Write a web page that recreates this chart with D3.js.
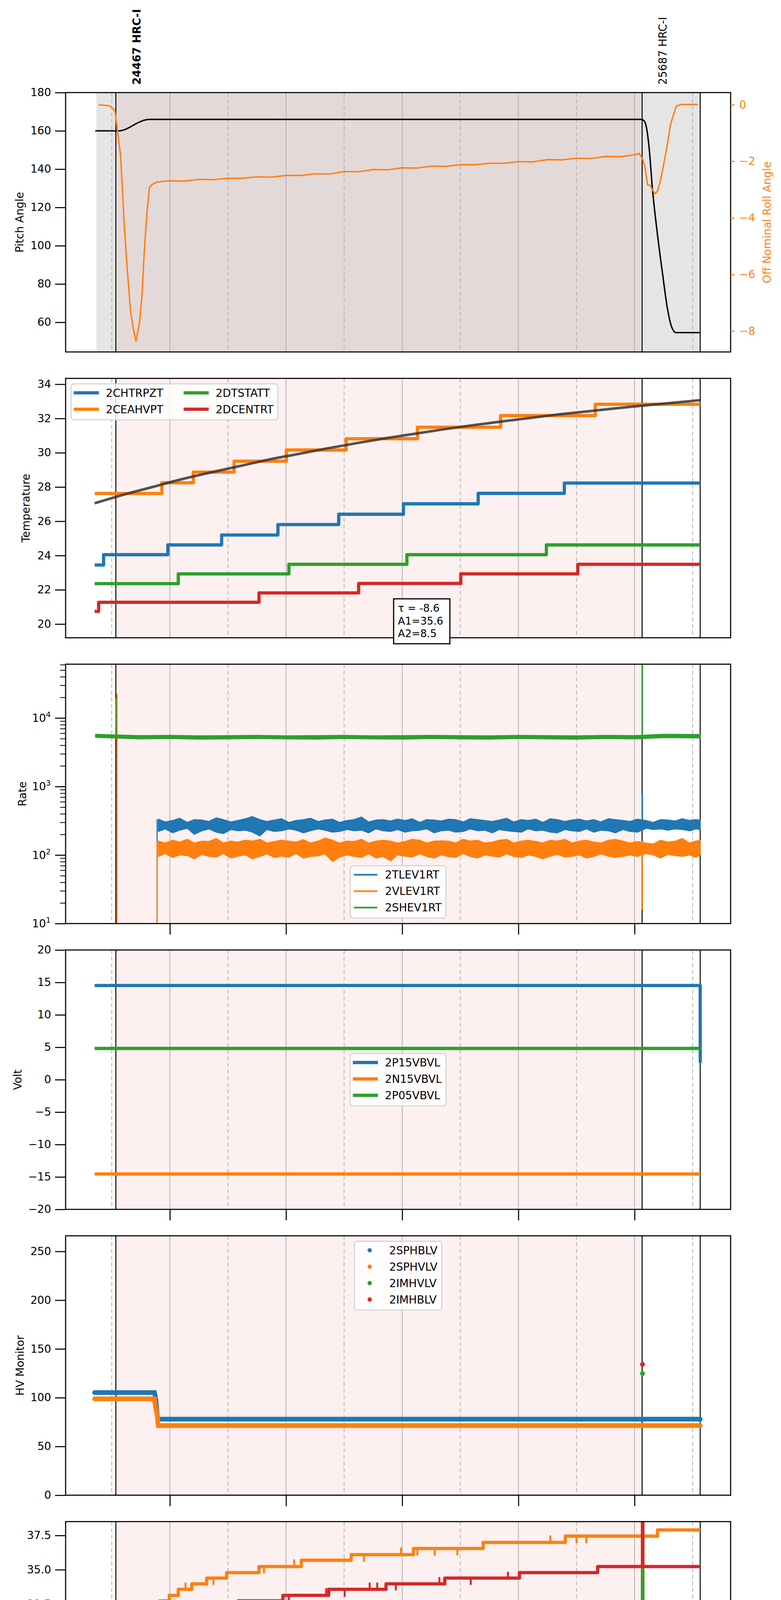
<!DOCTYPE html>
<html>
<head>
<meta charset="utf-8">
<script src="https://cdn.jsdelivr.net/npm/d3@7"></script>
<style>
  html, body { margin: 0; padding: 0; background: #fff; width: 2000px; height: 5400px; overflow: hidden; }
  svg { display: block; }
  text { font-family: "DejaVu Sans", sans-serif; }
</style>
</head>
<body>
<div id="chart"></div>
<script>
// ---------------- data (hours since 2021-08-20 00:00) ----------------
var majorHours = [16, 18, 20, 22, 24];
var minorHours = [15, 17, 19, 21, 23, 25];
var slewStart = 14.736, obsStart = 15.07, obsEnd = 24.13, dataEnd = 25.13;
var obsLabels = [
  {t: 15.07, text: '24467 HRC-I', bold: true},
  {t: 24.13, text: '25687 HRC-I', bold: false}
];

// panel 1: pitch / roll
var pitchAngle = [[14.716,160],[15.134,160],[15.219,160.6],[15.305,161.8],[15.391,163.3],[15.477,164.6],
  [15.562,165.6],[15.648,166],[24.12,166],[24.163,165.3],[24.206,161.6],[24.249,151.7],[24.309,129.3],
  [24.395,105.7],[24.48,85.8],[24.566,67.2],[24.635,57.9],[24.712,54.6],[25.12,54.6]];
var rollAngle = [[14.774,0.0],[14.969,-0.04],[15.054,-0.21],[15.153,-1.82],[15.219,-4.43],[15.262,-5.69],
  [15.322,-7.29],[15.374,-7.96],[15.417,-8.35],[15.477,-7.71],[15.519,-6.78],[15.562,-5.1],[15.605,-3.84],
  [15.648,-2.92],[15.691,-2.82],[15.78,-2.73],[16.0,-2.69],[16.25,-2.7],[16.5,-2.64],[16.75,-2.65],[17.0,-2.6],
  [17.25,-2.6],[17.5,-2.55],[17.75,-2.56],[18.0,-2.5],[18.25,-2.5],[18.5,-2.44],[18.75,-2.45],[19.0,-2.36],
  [19.25,-2.37],[19.5,-2.29],[19.75,-2.3],[20.0,-2.23],[20.25,-2.24],[20.5,-2.17],[20.75,-2.18],[21.0,-2.12],
  [21.25,-2.12],[21.5,-2.07],[21.75,-2.07],[22.0,-2.01],[22.25,-2.02],[22.5,-1.94],[22.75,-1.95],[23.0,-1.89],
  [23.25,-1.9],[23.5,-1.83],[23.75,-1.84],[24.0,-1.77],[24.08,-1.72],[24.137,-1.92],[24.18,-2.2],
  [24.223,-2.83],[24.266,-2.85],[24.352,-3.15],[24.395,-3.05],[24.437,-2.75],[24.48,-2.33],[24.566,-1.4],
  [24.619,-0.69],[24.72,-0.04],[24.807,0.01],[25.09,0.01]];

// panel 2: temperature
var temp_2CHTRPZT = [[14.705,23.45],[14.859,24.05],[15.965,24.62],[16.891,25.2],[17.86,25.81],[18.907,26.41],
  [20.021,27.02],[21.308,27.63],[22.791,28.23],[25.13,28.23]];
var temp_2CEAHVPT = [[14.705,27.62],[15.862,28.25],[16.403,28.87],[17.106,29.51],[18.006,30.16],[19.035,30.82],
  [20.262,31.49],[21.694,32.17],[23.323,32.83],[25.13,32.83]];
var temp_2DTSTATT = [[14.705,22.36],[16.145,22.93],[18.049,23.49],[20.081,24.05],[22.482,24.62],[25.13,24.62]];
var temp_2DCENTRT = [[14.705,20.74],[14.774,21.27],[17.535,21.82],[19.25,22.37],[21.008,22.93],[23.023,23.49],[25.13,23.49]];
var tempFit = [[14.705,27.05],[15.2,27.55],[15.7,28.0],[16.2,28.45],[16.7,28.85],[17.2,29.22],[17.7,29.6],
  [18.2,29.92],[18.7,30.25],[19.2,30.55],[19.7,30.84],[20.2,31.1],[20.7,31.36],[21.2,31.6],[21.7,31.82],
  [22.2,32.03],[22.7,32.24],[23.2,32.42],[23.7,32.6],[24.2,32.77],[24.7,32.93],[25.13,33.07]];
var fitText = ['\u03c4 = -8.6', 'A1=35.6', 'A2=8.5'];

// panel 3: rates (noise band envelopes + spikes [t, from, to])
var rateTimes = [15.80,15.92,16.05,16.17,16.30,16.42,16.55,16.67,16.80,16.92,17.05,17.17,17.30,17.42,17.55,
  17.67,17.80,17.92,18.05,18.17,18.30,18.42,18.55,18.67,18.80,18.92,19.05,19.17,19.30,19.42,19.55,19.67,
  19.80,19.92,20.05,20.17,20.30,20.42,20.55,20.67,20.80,20.92,21.05,21.17,21.30,21.42,21.55,21.67,21.80,
  21.92,22.05,22.17,22.30,22.42,22.55,22.67,22.80,22.92,23.05,23.17,23.30,23.42,23.55,23.67,23.80,23.92,
  24.05,24.20,24.32,24.45,24.57,24.70,24.82,24.95,25.05,25.13];
var rateHi_2TLEV1RT = [335,305,320,345,300,330,325,310,350,330,305,320,340,365,330,310,325,340,300,320,330,
  345,310,325,335,300,320,330,360,305,325,330,315,335,320,340,300,330,325,315,335,330,305,340,330,320,
  310,325,345,305,330,320,335,300,340,330,310,325,335,315,330,305,340,330,320,310,335,320,300,330,325,
  315,340,320,330,325];
var rateLo_2TLEV1RT = [220,240,210,230,245,200,225,240,215,205,235,225,230,215,190,235,220,225,240,230,210,
  225,240,230,215,220,235,225,230,210,240,225,220,235,215,225,230,240,210,225,230,215,220,240,225,230,
  210,235,225,220,215,240,225,230,215,210,235,225,220,240,215,230,225,210,235,220,215,245,235,240,230,
  240,235,225,240,235];
var rateHi_2VLEV1RT = [160,150,165,155,170,150,160,158,175,150,160,155,165,160,170,150,158,165,160,155,168,
  150,160,178,165,150,160,158,170,150,160,165,160,150,158,170,165,150,160,162,160,150,170,160,165,150,
  155,165,170,150,160,165,158,150,165,160,170,150,160,165,155,150,165,170,160,150,158,150,145,165,155,
  160,175,150,160,165];
var rateLo_2VLEV1RT = [95,105,92,100,98,88,102,95,93,105,90,96,100,88,95,104,92,96,93,105,90,95,97,104,80,
  93,100,95,92,104,90,95,82,100,96,93,104,95,90,100,94,92,105,95,90,100,96,93,104,95,92,100,95,88,96,
  102,93,95,100,90,95,104,96,92,95,100,95,105,100,90,102,98,95,100,92,100];
var greenTimes = [14.72,15.0,15.5,16.0,16.5,17.0,17.5,18.0,18.5,19.0,19.5,20.0,20.5,21.0,21.5,22.0,22.5,23.0,
  23.5,24.0,24.5,25.13];
var rateHi_2SHEV1RT = [5800,5700,5550,5600,5500,5550,5600,5500,5550,5600,5500,5550,5600,5550,5500,5600,5550,
  5500,5600,5550,5800,5750];
var rateLo_2SHEV1RT = [5200,5100,4950,5000,4900,4950,5000,4950,4900,5000,4950,4900,5000,4950,4900,5000,4950,
  4900,5000,4950,5150,5100];
var rateSpikes_2TLEV1RT = [[15.78,10,330],[24.135,230,780]];
var rateSpikes_2VLEV1RT = [[15.09,10,22500],[15.78,10,160],[24.135,16,160]];
var rateSpikes_2SHEV1RT = [[15.075,5300,19300],[24.135,5300,61000]];

// panel 4: voltages
var volt_2P15VBVL = [[14.705,14.52],[25.13,14.52],[25.131,2.6]];
var volt_2N15VBVL = [[14.705,-14.54],[25.13,-14.54]];
var volt_2P05VBVL = [[14.705,4.82],[25.13,4.82]];

// panel 5: HV monitor
var hv_2SPHBLV = [[14.705,105.2],[15.734,105.2],[15.745,103],[15.76,97],[15.77,91],[15.777,86],[15.785,81],[15.795,78],[25.13,78]];
var hv_2SPHVLV = [[14.705,98.8],[15.734,98.8],[15.75,91.6],[15.767,86.5],[15.785,81.3],[15.79,76.1],[15.802,71.4],[25.13,71.4]];
var hv_2IMHVLV = [[24.137,124.8]];
var hv_2IMHBLV = [[24.137,134.2]];

// panel 6: detector temps (steps) and single-sample excursions
var det_2SPINATM = [[14.705,20.32],[16.66,21.0],[18.72,21.71],[21.153,22.44],[24.395,23.16],[25.13,23.16]];
var det_2SPHVATM = [[14.705,32.33],[15.82,32.73],[15.991,33.13],[16.145,33.57],[16.377,33.97],[16.634,34.39],
  [16.977,34.79],[17.535,35.23],[18.263,35.69],[19.121,36.1],[20.193,36.55],[21.393,36.99],[22.808,37.45],
  [24.137,0],[24.142,37.45],[24.395,37.9],[25.13,37.9]];
var det_2IMINATM = [[14.705,21.71],[16.103,22.44],[19.018,23.16],[22.139,23.89],[24.137,60],[24.142,23.89],[25.13,23.89]];
var det_2IMHVATM = [[14.705,31.5],[15.622,31.93],[16.548,32.33],[17.174,32.73],[17.946,33.13],[18.735,33.57],
  [19.721,33.97],[20.733,34.39],[22.019,34.79],[23.365,35.23],[24.137,60],[24.142,35.23],[25.13,35.23]];
var detSpikes_2SPHVATM = [[16.27,34.0],[16.75,33.95],[17.62,34.8],[18.14,35.7],[19.34,35.65],[19.98,36.55],
  [20.26,36.1],[20.56,36.1],[20.95,36.1],[22.55,37.45],[23.0,37.0],[23.17,37.0]];
var detSpikes_2IMHVATM = [[15.93,31.45],[16.27,32.35],[16.72,31.85],[17.32,32.3],[18.05,32.75],[18.69,33.6],
  [19.01,33.1],[19.44,34.0],[19.57,34.0],[19.89,33.55],[20.64,34.4],[21.18,33.95],[21.82,34.8]];

// panel 7: FEA temps
var fea_2FHTRMZT = [[14.705,25.8],[16.162,26.4],[18.075,27.0],[20.579,27.6],[23.837,28.25],[24.635,27.6],[25.13,27.6]];
var fea_2FRADPYT = [[14.705,20.75],[15.134,21.3],[15.537,21.8],[17.603,22.35],[19.867,22.9],[22.748,23.45],
  [24.506,22.9],[24.798,22.35],[25.13,22.35]];
var fea_2FEPRATM = [[14.705,26.95],[16.78,27.75],[20.321,28.6],[24.137,31],[24.142,28.6],[25.13,28.6]];
var fea_2FE00ATM = [[14.705,24.95],[15.802,25.28],[17.192,25.62],[18.718,25.97],[20.621,26.31],[23.023,26.65],
  [24.137,15],[24.142,26.65],[24.781,26.31],[25.13,26.31]];
var feaSpikes_2FE00ATM = [[15.85,24.9],[15.9,25.35],[15.93,23.95],[15.96,24.3],[16.0,24.9],[16.47,25.65],
  [16.49,24.6],[17.08,26.3],[17.3,24.9],[17.53,26.7],[18.07,26.3],[18.09,24.6],[18.18,26.0],[18.28,26.0],
  [18.33,25.25],[18.44,26.0],[18.7,25.25],[19.28,25.6],[19.36,25.6],[19.83,25.6],[20.0,26.3],[20.06,25.25],
  [20.11,26.3],[20.35,25.6],[20.42,26.65],[20.95,25.6],[21.2,26.65],[21.44,26.65],[21.46,25.6],[21.68,26.65],
  [21.82,25.95],[22.14,25.25],[22.27,26.65],[22.38,25.95],[22.45,26.65],[22.55,25.95],[23.0,25.6],
  [23.19,25.95],[23.39,27.4],[23.61,25.6],[23.71,27.0],[23.81,25.6],[23.91,27.0],[23.97,27.75]];

// ---------------- layout ----------------
var C = {blue: '#1f77b4', orange: '#ff7f0e', green: '#2ca02c', red: '#d62728'};
var fs = 27.8;
var left = 168, right = 1871, panelH = 664;
var panelTops = [237, 968.7, 1700.3, 2432, 3163.7, 3895.3, 4627];

var svg = d3.select('#chart').append('svg').attr('width', 2000).attr('height', 5400);
var defs = svg.append('defs');
var x = d3.scaleLinear().domain([14.205, 25.654]).range([left, right]);

function makePanel(i, y) {
  var top = panelTops[i];
  y.range([top + panelH, top]);
  defs.append('clipPath').attr('id', 'clip' + i).append('rect')
    .attr('x', left).attr('y', top).attr('width', right - left).attr('height', panelH);
  var g = svg.append('g');
  var p = {i: i, top: top, y: y, g: g};
  p.bg = g.append('g');
  p.plot = g.append('g').attr('clip-path', 'url(#clip' + i + ')');
  p.fg = g.append('g');
  // shading
  if (i === 0) {
    p.bg.append('rect').attr('x', x(slewStart)).attr('y', top).attr('width', x(dataEnd) - x(slewStart))
      .attr('height', panelH).attr('fill', '#e5e5e5');
    p.bg.append('rect').attr('x', x(obsStart)).attr('y', top).attr('width', x(obsEnd) - x(obsStart))
      .attr('height', panelH).attr('fill', '#e4d9d9');
  } else {
    p.bg.append('rect').attr('x', x(obsStart)).attr('y', top).attr('width', x(obsEnd) - x(obsStart))
      .attr('height', panelH).attr('fill', '#fdf0f0');
  }
  // hour grid
  majorHours.concat(minorHours).forEach(function(h) {
    p.bg.append('line').attr('x1', x(h)).attr('x2', x(h)).attr('y1', top).attr('y2', top + panelH)
      .attr('stroke', '#b0b0b0').attr('stroke-width', 2)
      .attr('stroke-dasharray', h % 2 ? '10,7' : null);
  });
  [obsStart, obsEnd, dataEnd].forEach(function(t) {
    p.bg.append('line').attr('x1', x(t)).attr('x2', x(t)).attr('y1', top).attr('y2', top + panelH)
      .attr('stroke', '#000').attr('stroke-width', 2.5);
  });
  return p;
}

function finishPanel(p, showTicks) {
  p.fg.append('rect').attr('x', left).attr('y', p.top).attr('width', right - left).attr('height', panelH)
    .attr('fill', 'none').attr('stroke', '#000').attr('stroke-width', 2.8);
  if (showTicks) {
    var ax = p.fg.append('g').attr('transform', 'translate(0,' + (p.top + panelH) + ')')
      .call(d3.axisBottom(x).tickValues(majorHours).tickSize(28).tickPadding(10)
        .tickFormat(p.i === 6 ? function(h) { return d3.format('02d')(h % 24) + 'h'; } : ''));
    styleAxis(ax);
    if (p.i !== 6) ax.selectAll('.tick text').remove();
  }
}

function styleAxis(ax, color) {
  ax.attr('font-family', '"DejaVu Sans", sans-serif').attr('font-size', fs);
  ax.select('.domain').remove();
  ax.selectAll('.tick line').attr('stroke', color || '#000').attr('stroke-width', 2.7);
  ax.selectAll('.tick text').attr('fill', color || '#000');
}

function yAxis(p, ticks, fmt) {
  var ax = p.fg.append('g').attr('transform', 'translate(' + left + ',0)')
    .call(d3.axisLeft(p.y).tickValues(ticks).tickSize(27).tickPadding(10).tickFormat(fmt));
  styleAxis(ax);
}

function yLabel(p, text, cx, color) {
  var cy = p.top + panelH / 2;
  p.fg.append('text').attr('transform', 'translate(' + cx + ',' + cy + ') rotate(-90)')
    .attr('text-anchor', 'middle').attr('dominant-baseline', 'central')
    .attr('font-size', fs).attr('fill', color || '#000').text(text);
}

function stepLine(p, data, color, lw) {
  p.plot.append('path').datum(data)
    .attr('d', d3.line().x(function(d) { return x(d[0]); }).y(function(d) { return p.y(d[1]); }).curve(d3.curveStepAfter))
    .attr('fill', 'none').attr('stroke', color).attr('stroke-width', lw || 8.3)
    .attr('stroke-linejoin', 'round');
}

function spikes(p, steps, list, color, lw) {
  var bis = d3.bisector(function(d) { return d[0]; }).right;
  list.forEach(function(s) {
    var base = steps[Math.max(0, bis(steps, s[0]) - 1)][1];
    p.plot.append('line').attr('x1', x(s[0])).attr('x2', x(s[0]))
      .attr('y1', p.y(base)).attr('y2', p.y(s[1]))
      .attr('stroke', color).attr('stroke-width', lw || 5).attr('stroke-linecap', 'round');
  });
}

function legend(p, items, loc, opt) {
  opt = opt || {};
  var ncol = opt.ncol || 1, kind = opt.kind || 'line', lw = opt.lw || 8.3;
  var nrow = Math.ceil(items.length / ncol);
  var handle = 56, htp = 22, colsp = 56, pad = 11, rowH = 42;
  var lg = p.fg.append('g');
  var box = lg.append('rect');
  var texts = items.map(function(it) { return lg.append('text').attr('font-size', fs).text(it.label); });
  var widths = texts.map(function(t) { return t.node().getComputedTextLength(); });
  var colW = [];
  for (var c = 0; c < ncol; c++) colW.push(d3.max(widths.slice(c * nrow, (c + 1) * nrow)) || 0);
  var w = pad * 2 + d3.sum(colW) + ncol * (handle + htp) + colsp * (ncol - 1);
  var h = 50 + rowH * (nrow - 1);
  var bx, by;
  if (loc === 'upper left') { bx = left + 14; by = p.top + 14; }
  else if (loc === 'upper center') { bx = (left + right) / 2 - w / 2; by = p.top + 14; }
  else if (loc === 'lower center') { bx = (left + right) / 2 - w / 2; by = p.top + panelH - 14 - h; }
  else { bx = (left + right) / 2 - w / 2; by = p.top + panelH / 2 - h / 2; }
  box.attr('x', bx).attr('y', by).attr('width', w).attr('height', h).attr('rx', 7)
    .attr('fill', '#fff').attr('fill-opacity', 0.8).attr('stroke', '#d0d0d0').attr('stroke-width', 2.5);
  items.forEach(function(it, i) {
    var col = Math.floor(i / nrow), row = i % nrow;
    var cx = bx + pad;
    for (var k = 0; k < col; k++) cx += handle + htp + colW[k] + colsp;
    var cy = by + 23 + row * rowH;
    if (kind === 'dot') {
      lg.append('circle').attr('cx', cx + handle / 2).attr('cy', cy).attr('r', 5.5).attr('fill', it.color);
    } else {
      lg.append('line').attr('x1', cx).attr('x2', cx + handle).attr('y1', cy).attr('y2', cy)
        .attr('stroke', it.color).attr('stroke-width', lw).attr('stroke-linecap', 'square');
    }
    texts[i].attr('x', cx + handle + htp).attr('y', cy + 10);
  });
}

// ---------------- panel 1: pitch & roll ----------------
var p1 = makePanel(0, d3.scaleLinear().domain([44.5, 180]));
var yRoll = d3.scaleLinear().domain([-8.74, 0.43]).range([p1.top + panelH, p1.top]);
p1.plot.append('path').datum(pitchAngle)
  .attr('d', d3.line().x(function(d) { return x(d[0]); }).y(function(d) { return p1.y(d[1]); }).curve(d3.curveMonotoneX))
  .attr('fill', 'none').attr('stroke', '#000').attr('stroke-width', 3.6);
p1.plot.append('path').datum(rollAngle)
  .attr('d', d3.line().x(function(d) { return x(d[0]); }).y(function(d) { return yRoll(d[1]); }))
  .attr('fill', 'none').attr('stroke', C.orange).attr('stroke-width', 3.6).attr('stroke-linejoin', 'round');
finishPanel(p1, false);
yAxis(p1, [60, 80, 100, 120, 140, 160, 180], d3.format('d'));
var rax = p1.fg.append('g').attr('transform', 'translate(' + right + ',0)')
  .call(d3.axisRight(yRoll).tickValues([0, -2, -4, -6, -8]).tickSize(10).tickPadding(12).tickFormat(d3.format('d')));
styleAxis(rax, C.orange);
yLabel(p1, 'Pitch Angle', 50);
yLabel(p1, 'Off Nominal Roll Angle', 1964, C.orange);
obsLabels.forEach(function(o) {
  svg.append('text').attr('transform', 'translate(' + (x(o.t) + 63) + ',217) rotate(-90)')
    .attr('font-size', fs).attr('font-weight', o.bold ? 'bold' : 'normal').text(o.text);
});

// ---------------- panel 2: temperature ----------------
var p2 = makePanel(1, d3.scaleLinear().domain([19.2, 34.34]));
stepLine(p2, temp_2CHTRPZT, C.blue);
stepLine(p2, temp_2CEAHVPT, C.orange);
stepLine(p2, temp_2DTSTATT, C.green);
stepLine(p2, temp_2DCENTRT, C.red);
p2.plot.append('path').datum(tempFit)
  .attr('d', d3.line().x(function(d) { return x(d[0]); }).y(function(d) { return p2.y(d[1]); }).curve(d3.curveMonotoneX))
  .attr('fill', 'none').attr('stroke', '#3a3333').attr('stroke-opacity', 0.85).attr('stroke-width', 6.5);
finishPanel(p2, false);
yAxis(p2, [20, 22, 24, 26, 28, 30, 32, 34], d3.format('d'));
yLabel(p2, 'Temperature', 66);
legend(p2, [{label: '2CHTRPZT', color: C.blue}, {label: '2CEAHVPT', color: C.orange},
  {label: '2DTSTATT', color: C.green}, {label: '2DCENTRT', color: C.red}], 'upper left', {ncol: 2});
var ann = svg.append('g');
ann.append('rect').attr('x', 1008).attr('y', 1533).attr('width', 144).attr('height', 115)
  .attr('fill', '#fff').attr('stroke', '#000').attr('stroke-width', 3);
fitText.forEach(function(t, i) {
  ann.append('text').attr('x', 1019).attr('y', 1566 + i * 32.5).attr('font-size', 26.5).text(t);
});

// ---------------- panel 3: rates ----------------
var p3 = makePanel(2, d3.scaleLog().domain([10, 61000]));
function band(p, times, lo, hi, color) {
  p.plot.append('path').datum(times.map(function(t, i) { return [t, lo[i], hi[i]]; }))
    .attr('d', d3.area().x(function(d) { return x(d[0]); }).y0(function(d) { return p.y(d[1]); }).y1(function(d) { return p.y(d[2]); }))
    .attr('fill', color).attr('stroke', color).attr('stroke-width', 2).attr('stroke-linejoin', 'round');
}
function rateSpikes(p, list, color) {
  list.forEach(function(s) {
    p.plot.append('line').attr('x1', x(s[0])).attr('x2', x(s[0])).attr('y1', p.y(s[1])).attr('y2', p.y(s[2]))
      .attr('stroke', color).attr('stroke-width', 3);
  });
}
band(p3, rateTimes, rateLo_2TLEV1RT, rateHi_2TLEV1RT, C.blue);
rateSpikes(p3, rateSpikes_2TLEV1RT, C.blue);
band(p3, rateTimes, rateLo_2VLEV1RT, rateHi_2VLEV1RT, C.orange);
rateSpikes(p3, rateSpikes_2VLEV1RT, C.orange);
band(p3, greenTimes, rateLo_2SHEV1RT, rateHi_2SHEV1RT, C.green);
rateSpikes(p3, rateSpikes_2SHEV1RT, C.green);
finishPanel(p3, true);
var rMajor = [10, 100, 1000, 10000];
var rMinor = [];
rMajor.forEach(function(m) { [2, 3, 4, 5, 6, 7, 8, 9].forEach(function(k) { if (m * k < 61000) rMinor.push(m * k); }); });
var rmi = p3.fg.append('g').attr('transform', 'translate(' + left + ',0)')
  .call(d3.axisLeft(p3.y).tickValues(rMinor).tickSize(14).tickFormat(''));
styleAxis(rmi);
rmi.selectAll('.tick line').attr('stroke-width', 2);
rmi.selectAll('.tick text').remove();
var rma = p3.fg.append('g').attr('transform', 'translate(' + left + ',0)')
  .call(d3.axisLeft(p3.y).tickValues(rMajor).tickSize(27).tickFormat(''));
styleAxis(rma);
rma.selectAll('.tick text').remove();
rMajor.forEach(function(m) {
  var t = p3.fg.append('text').attr('x', left - 38).attr('y', p3.y(m) + 10).attr('text-anchor', 'end').attr('font-size', fs);
  t.append('tspan').text('10');
  t.append('tspan').attr('dy', -12).attr('font-size', 19.5).text(Math.round(Math.log10(m)));
});
yLabel(p3, 'Rate', 57);
legend(p3, [{label: '2TLEV1RT', color: C.blue}, {label: '2VLEV1RT', color: C.orange},
  {label: '2SHEV1RT', color: C.green}], 'lower center', {lw: 4.2});

// ---------------- panel 4: voltages ----------------
var p4 = makePanel(3, d3.scaleLinear().domain([-20, 20]));
[[volt_2P15VBVL, C.blue], [volt_2N15VBVL, C.orange], [volt_2P05VBVL, C.green]].forEach(function(s) {
  p4.plot.append('path').datum(s[0])
    .attr('d', d3.line().x(function(d) { return x(d[0]); }).y(function(d) { return p4.y(d[1]); }))
    .attr('fill', 'none').attr('stroke', s[1]).attr('stroke-width', 8.3).attr('stroke-linejoin', 'round');
});
finishPanel(p4, true);
yAxis(p4, [-20, -15, -10, -5, 0, 5, 10, 15, 20], d3.format('d'));
yLabel(p4, 'Volt', 45);
legend(p4, [{label: '2P15VBVL', color: C.blue}, {label: '2N15VBVL', color: C.orange},
  {label: '2P05VBVL', color: C.green}], 'center');

// ---------------- panel 5: HV monitor ----------------
var p5 = makePanel(4, d3.scaleLinear().domain([0, 266]));
[[hv_2SPHBLV, C.blue], [hv_2SPHVLV, C.orange], [hv_2IMHVLV, C.green], [hv_2IMHBLV, C.red]].forEach(function(s) {
  p5.plot.append('path').datum(s[0])
    .attr('d', d3.line().x(function(d) { return x(d[0]); }).y(function(d) { return p5.y(d[1]); }))
    .attr('fill', 'none').attr('stroke', s[1]).attr('stroke-width', 12).attr('stroke-linecap', 'round');
  p5.plot.selectAll(null).data(s[0]).enter().append('circle')
    .attr('cx', function(d) { return x(d[0]); }).attr('cy', function(d) { return p5.y(d[1]); })
    .attr('r', 6).attr('fill', s[1]);
});
finishPanel(p5, true);
yAxis(p5, [0, 50, 100, 150, 200, 250], d3.format('d'));
yLabel(p5, 'HV Monitor', 51);
legend(p5, [{label: '2SPHBLV', color: C.blue}, {label: '2SPHVLV', color: C.orange},
  {label: '2IMHVLV', color: C.green}, {label: '2IMHBLV', color: C.red}], 'upper center', {kind: 'dot'});

// ---------------- panel 6: detector temps ----------------
var p6 = makePanel(5, d3.scaleLinear().domain([19.59, 38.51]));
stepLine(p6, det_2SPINATM, C.blue);
spikes(p6, det_2SPHVATM, detSpikes_2SPHVATM, C.orange);
stepLine(p6, det_2SPHVATM, C.orange);
stepLine(p6, det_2IMINATM, C.green);
spikes(p6, det_2IMHVATM, detSpikes_2IMHVATM, C.red);
stepLine(p6, det_2IMHVATM, C.red);
finishPanel(p6, true);
yAxis(p6, [20, 22.5, 25, 27.5, 30, 32.5, 35, 37.5], d3.format('.1f'));
yLabel(p6, 'Detector Temp', 42);
legend(p6, [{label: '2SPINATM', color: C.blue}, {label: '2SPHVATM', color: C.orange},
  {label: '2IMINATM', color: C.green}, {label: '2IMHVATM', color: C.red}], 'center');

// ---------------- panel 7: FEA temps ----------------
var p7 = makePanel(6, d3.scaleLinear().domain([20.37, 30.08]));
stepLine(p7, fea_2FHTRMZT, C.blue);
stepLine(p7, fea_2FRADPYT, C.orange);
stepLine(p7, fea_2FEPRATM, C.green);
spikes(p7, fea_2FE00ATM, feaSpikes_2FE00ATM, C.red, 5);
stepLine(p7, fea_2FE00ATM, C.red);
finishPanel(p7, true);
yAxis(p7, [22, 24, 26, 28, 30], d3.format('d'));
yLabel(p7, 'FEA Temp', 70);
legend(p7, [{label: '2FHTRMZT', color: C.blue}, {label: '2FRADPYT', color: C.orange},
  {label: '2FEPRATM', color: C.green}, {label: '2FE00ATM', color: C.red}], 'upper left');

// minor hour labels and x label
minorHours.forEach(function(h) {
  svg.append('text').attr('x', x(h)).attr('y', 5312).attr('text-anchor', 'middle').attr('font-size', 19)
    .text(d3.format('02d')(h % 24) + 'h');
});
svg.append('text').attr('x', (left + right) / 2).attr('y', 5390).attr('text-anchor', 'middle')
  .attr('font-size', 31).text('2021-08-20 (232)');
</script>
</body>
</html>
